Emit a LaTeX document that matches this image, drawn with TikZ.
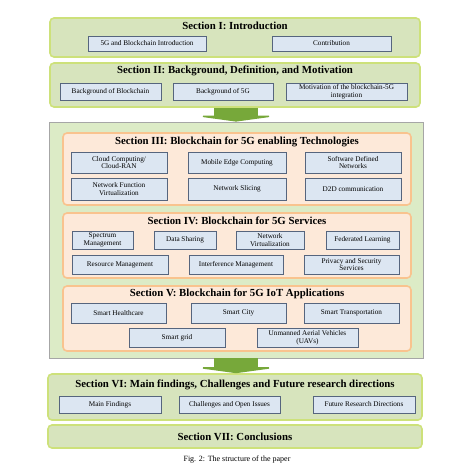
\documentclass[tikz,border=0pt]{standalone}
\usepackage{fontspec}
\setmainfont{Liberation Serif}
\usepackage{xcolor}
\usetikzlibrary{arrows.meta,positioning,calc}

\definecolor{secfill}{HTML}{D7E4BD}
\definecolor{secline}{HTML}{CDE17A}
\definecolor{itemfill}{HTML}{DCE6F2}
\definecolor{itemline}{HTML}{56657E}
\definecolor{subfill}{HTML}{FDE9D9}
\definecolor{subline}{HTML}{F9C38E}
\definecolor{contfill}{HTML}{DCEBC6}
\definecolor{arrowgreen}{HTML}{77A83A}

\begin{document}
\begin{tikzpicture}[x=1pt, y=-1pt,
  secbox/.style={draw=secline, line width=1.6pt, fill=secfill, rounded corners=4pt, inner sep=0pt},
  subbox/.style={draw=subline, line width=1.6pt, fill=subfill, rounded corners=4pt, inner sep=0pt},
  contbox/.style={draw=gray!70, line width=0.8pt, fill=contfill, inner sep=0pt},
  sectitle/.style={font=\fontsize{10.8}{12}\selectfont\bfseries, inner sep=0pt},
  item/.style={draw=itemline, line width=0.6pt, fill=itemfill, inner sep=0pt, align=center,
    font=\fontsize{7.2}{7.8}\selectfont},
  bigarrow/.style={arrowgreen, line width=44pt, -{Triangle[width=88pt,length=6pt]}}]
\useasboundingbox (0,0) rectangle (456,475);
% outer frame for sections III--V
\node[contbox, minimum width=374, minimum height=236] (cont) at (236,240) {};

% Section I
\node[secbox, minimum width=370, minimum height=39] (s1) at (235,37.5) {};
\node[sectitle] (s1t) at (235,26) {Section I: Introduction};
\node[item, minimum width=118, minimum height=15] (intro) at (147,43.5) {5G and Blockchain Introduction};
\node[item, minimum width=119, minimum height=15] (contrib) at (331.5,43.5) {Contribution};

% Section II
\node[secbox, minimum width=370, minimum height=44] (s2) at (235,85) {};
\node[sectitle] (s2t) at (235,71) {Section II: Background, Definition, and Motivation};
\foreach \n/\x/\w/\t in {bgbc/110.5/101/Background of Blockchain, bgfg/223/100/Background of 5G,
    motiv/346.5/121/{Motivation of the blockchain-5G\\integration}}
  {\node[item, minimum width=\w, minimum height=17] (\n) at (\x,91.5) {\t};}

% Section III
\node[subbox, minimum width=348, minimum height=72] (s3) at (237,169) {};
\node[sectitle] (s3t) at (237,142) {Section III: Blockchain for 5G enabling Technologies};
\foreach \n/\x/\w/\t in {cloud/119/96/{Cloud Computing/\\Cloud-RAN}, mec/237/98/Mobile Edge Computing,
    sdn/353/96/{Software Defined\\Networks}}
  {\node[item, minimum width=\w, minimum height=21] (\n) at (\x,162.5) {\t};}
\foreach \n/\x/\w/\t in {nfv/119/96/{Network Function\\Virtualization}, slice/237/98/Network Slicing,
    dtd/353/96/D2D communication}
  {\node[item, minimum width=\w, minimum height=22] (\n) at (\x,189) {\t};}

% Section IV
\node[subbox, minimum width=348, minimum height=65] (s4) at (237,245.5) {};
\node[sectitle] (s4t) at (237,221) {Section IV: Blockchain for 5G Services};
\foreach \n/\x/\w/\t in {spec/102.5/61/{Spectrum\\Management}, share/185/62/Data Sharing,
    nvirt/270/68/{Network\\Virtualization}, fedl/362.5/73/Federated Learning}
  {\node[item, minimum width=\w, minimum height=18] (\n) at (\x,240) {\t};}
\foreach \n/\x/\w/\t in {resm/120/96/Resource Management, intm/236/94/Interference Management,
    priv/351.5/95/{Privacy and Security\\Services}}
  {\node[item, minimum width=\w, minimum height=19] (\n) at (\x,264.5) {\t};}

% Section V
\node[subbox, minimum width=348, minimum height=65] (s5) at (237,318.5) {};
\node[sectitle] (s5t) at (237,294) {Section V: Blockchain for 5G IoT Applications};
\foreach \n/\x/\t in {health/118.5/Smart Healthcare, city/238.5/Smart City, trans/351.5/Smart Transportation}
  {\node[item, minimum width=95, minimum height=20] (\n) at (\x,313) {\t};}
\node[item, minimum width=96, minimum height=19] (grid) at (177,337.5) {Smart grid};
\node[item, minimum width=101, minimum height=19] (uav) at (307.5,337.5) {Unmanned Aerial Vehicles\\(UAVs)};

% Section VI
\node[secbox, minimum width=374, minimum height=46] (s6) at (235,397) {};
\node[sectitle] (s6t) at (235,385) {Section VI: Main findings, Challenges and Future research directions};
\foreach \n/\x/\w/\t in {find/110/102/Main Findings, chall/229.5/101/Challenges and Open Issues,
    future/364/102/Future Research Directions}
  {\node[item, minimum width=\w, minimum height=17] (\n) at (\x,404.5) {\t};}

% Section VII
\node[secbox, minimum width=374, minimum height=23] (s7) at (235,436.5) {};
\node[sectitle] (s7t) at (235,437) {Section VII: Conclusions};

% flow arrows
\draw[bigarrow] (s2.south -| cont.north) -- (cont.north);
\draw[bigarrow] (cont.south) -- (s6.north -| cont.south);

\node[font=\fontsize{8}{9}\selectfont] (cap) at (237,460) {Fig. 2: The structure of the paper};
\end{tikzpicture}
\end{document}
